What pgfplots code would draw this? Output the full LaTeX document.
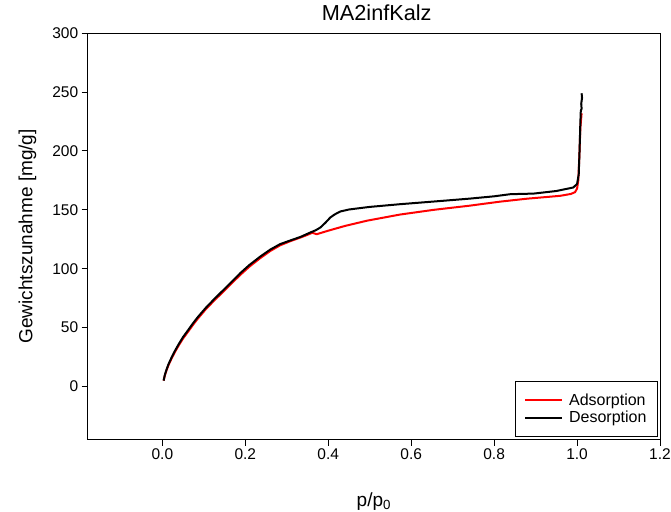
\documentclass[border=0pt]{standalone}
\usepackage{fontspec}
\setmainfont{Liberation Sans}
\usepackage{pgfplots}
\pgfplotsset{compat=1.18}
\begin{document}
\begin{tikzpicture}[x=1pt,y=1pt]
\path[use as bounding box] (-87.7pt,-71.5pt) rectangle (583.3pt,439.5pt);
\begin{axis}[
  at={(0pt,0pt)}, anchor=south west,
  scale only axis, width=572.3pt, height=406.3pt,
  xmin=-0.18, xmax=1.2, ymin=-45, ymax=300,
  xtick={0,0.2,0.4,0.6,0.8,1.0,1.2},
  ytick={0,50,100,150,200,250,300},
  xtick pos=left, ytick pos=left,
  tick align=outside, major tick length=6pt,
  tick style={line width=1pt, black},
  axis line style={line width=1pt, black},
  /pgf/number format/assume math mode=true,
  xticklabel style={/pgf/number format/fixed, /pgf/number format/fixed zerofill, /pgf/number format/precision=1, font=\fontsize{15.5}{18}\selectfont},
  yticklabel style={font=\fontsize{15.5}{18}\selectfont},
  title={MA2infKalz},
  title style={at={(axis description cs:0.505,1.0165)}, anchor=base, font=\fontsize{21.7}{26}\selectfont},
  xlabel={p/p\textsubscript{0}},
  xlabel style={at={(axis description cs:0.5,-0.1637)}, anchor=base, font=\fontsize{19}{23}\selectfont},
  ylabel={Gewichtszunahme [mg/g]},
  ylabel style={at={(axis description cs:-0.0836,0.5)}, anchor=south, font=\fontsize{19}{23}\selectfont},
  legend cell align=left,
  legend style={at={(rel axis cs:0.9965,0.006)}, anchor=south east,
    font=\fontsize{16}{19}\selectfont, draw=black, line width=1pt,
    inner xsep=9pt, inner ysep=10pt, row sep=0pt, column sep=4pt,
    nodes={inner xsep=2pt, inner ysep=2.2pt}},
  legend image code/.code={\draw[#1] (0pt,0pt) -- (37pt,0pt);},
]
\addplot[red, line width=2pt, line join=round] coordinates {
(0.003,5) (0.006,9.3) (0.010,13.6) (0.015,18.3) (0.023,24.3) (0.031,29.7)
(0.040,35.2) (0.050,40.8) (0.063,47) (0.074,52.4) (0.085,57.4)
(0.104,65.3) (0.125,73) (0.144,79.5) (0.158,84.5) (0.172,89.3) (0.188,94.8) (0.210,101.8)
(0.236,109) (0.260,115) (0.284,119.9) (0.310,123.6) (0.333,126.5) (0.350,128.8)
(0.362,130.6) (0.366,130) (0.372,129.3) (0.400,132.3) (0.440,136.3) (0.4935,140.8)
(0.573,146) (0.654,150) (0.740,153.5) (0.815,157) (0.880,159.5) (0.959,161.9)
(0.985,163.5) (0.995,165) (1.000,168) (1.003,175) (1.006,200) (1.008,220)
(1.010,228) (1.011,232)
};
\addlegendentry{Adsorption}
\addplot[black, line width=2pt, line join=round] coordinates {
(1.011,249) (1.012,245) (1.010,240) (1.011,236) (1.009,234) (1.008,225)
(1.006,200) (1.004,180) (1.000,172) (0.991,169) (0.950,166) (0.895,163.8)
(0.839,163.3) (0.800,161.5) (0.740,159.5) (0.670,157.5) (0.573,154.8) (0.500,152.5)
(0.477,151.5) (0.450,150.3) (0.429,148.6) (0.415,146) (0.405,143.5) (0.393,139)
(0.381,135) (0.370,132.7) (0.357,130.8) (0.333,127.0) (0.310,124.2) (0.284,120.9)
(0.260,116.2) (0.236,110.3) (0.210,103.2) (0.188,96.3) (0.172,90.6) (0.158,85.7) (0.144,80.8)
(0.125,74.2) (0.104,66.5) (0.085,58.7) (0.074,53.7) (0.063,48.3) (0.050,42) (0.040,36.3)
(0.031,30.7) (0.023,25.2) (0.015,19.1) (0.010,14.3) (0.006,9.8) (0.003,5)
};
\addlegendentry{Desorption}
\end{axis}
\end{tikzpicture}
\end{document}
